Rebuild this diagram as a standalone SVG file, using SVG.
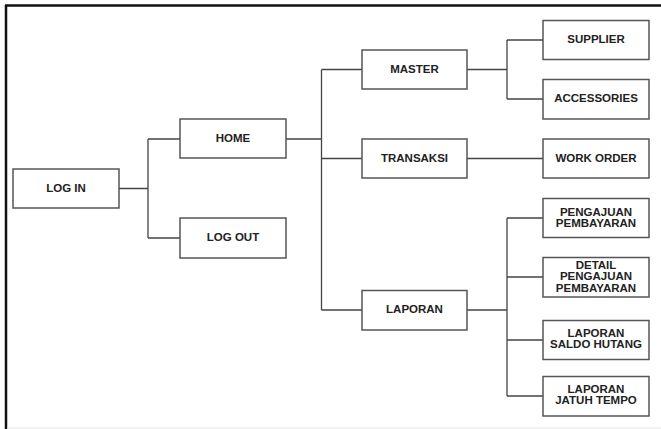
<svg xmlns="http://www.w3.org/2000/svg" width="661" height="429" viewBox="0 0 661 429">
<style>
.box{fill:#fff;stroke:#555;stroke-width:1.5}
.t{font-family:"Liberation Sans",Arial,sans-serif;font-weight:bold;font-size:11.5px;fill:#222;text-anchor:middle}
.c{fill:none;stroke:#444;stroke-width:1.3}
</style>
<rect x="0" y="0" width="661" height="429" fill="#fff"/>
<g id="frame">
<line x1="6" y1="5" x2="6" y2="429" stroke="#111" stroke-width="2.5"/>
<line x1="5" y1="5.5" x2="661" y2="5.5" stroke="#111" stroke-width="2.5"/>
<line x1="7" y1="428" x2="661" y2="428" stroke="#e4e4e4" stroke-width="1"/>
</g>
<g id="connectors">
<path class="c" d="M119,188.5H148M148,139V238M148,139H180M148,238H180"/>
<path class="c" d="M286,139H321.5M321.5,69.5V310M321.5,69.5H362M321.5,158.5H362M321.5,310H362"/>
<path class="c" d="M467,69.5H507M507,40V99M507,40H543M507,99H543"/>
<path class="c" d="M467,158.5H543"/>
<path class="c" d="M467,310H507M507,218V396M507,218H543M507,277H543M507,340H543M507,396H543"/>
</g>
<g id="login"><rect class="box" x="13" y="169" width="106" height="39"/><text class="t" x="66" y="191.5">LOG IN</text></g>
<g id="home"><rect class="box" x="180" y="119" width="106" height="39"/><text class="t" x="233" y="141.5">HOME</text></g>
<g id="logout"><rect class="box" x="180" y="218" width="106" height="40"/><text class="t" x="233" y="241">LOG OUT</text></g>
<g id="master"><rect class="box" x="362" y="50" width="105" height="39"/><text class="t" x="414.5" y="72.5">MASTER</text></g>
<g id="transaksi"><rect class="box" x="362" y="139" width="105" height="39"/><text class="t" x="414.5" y="161.5">TRANSAKSI</text></g>
<g id="laporan"><rect class="box" x="362" y="290.5" width="105" height="39.5"/><text class="t" x="414.5" y="313">LAPORAN</text></g>
<g id="supplier"><rect class="box" x="543" y="20.5" width="106" height="39"/><text class="t" x="596" y="43">SUPPLIER</text></g>
<g id="accessories"><rect class="box" x="543" y="79.5" width="106" height="39.5"/><text class="t" x="596" y="102.3">ACCESSORIES</text></g>
<g id="workorder"><rect class="box" x="543" y="139" width="106" height="39"/><text class="t" x="596" y="161.5">WORK ORDER</text></g>
<g id="pengajuan"><rect class="box" x="543" y="198.5" width="106" height="39"/><text class="t" x="596" y="215.7">PENGAJUAN</text><text class="t" x="596" y="227.3">PEMBAYARAN</text></g>
<g id="detail"><rect class="box" x="543" y="257.5" width="106" height="39.5"/><text class="t" x="596" y="269">DETAIL</text><text class="t" x="596" y="280.3">PENGAJUAN</text><text class="t" x="596" y="291.5">PEMBAYARAN</text></g>
<g id="saldo"><rect class="box" x="543" y="320.5" width="106" height="39"/><text class="t" x="596" y="337">LAPORAN</text><text class="t" x="596" y="348.3">SALDO HUTANG</text></g>
<g id="jatuh"><rect class="box" x="543" y="376.5" width="106" height="39.5"/><text class="t" x="596" y="393">LAPORAN</text><text class="t" x="596" y="404.3">JATUH TEMPO</text></g>
</svg>
